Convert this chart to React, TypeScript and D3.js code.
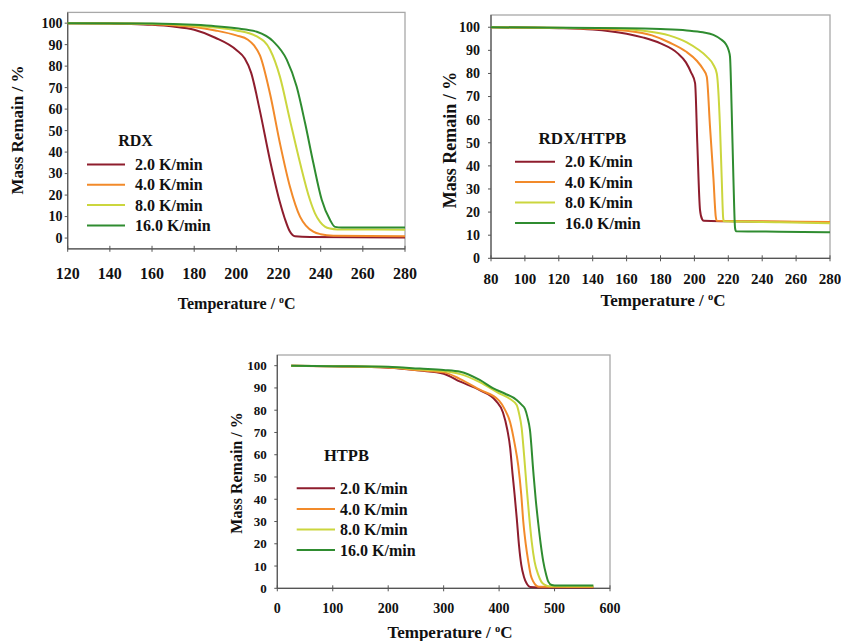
import React from 'react';
import * as d3 from 'd3';

type Pt = [number, number];

// ---------- shared legend data ----------
const rateLabels = ['2.0 K/min', '4.0 K/min', '8.0 K/min', '16.0 K/min'];
const rateColors = ['#8e1d2d', '#f28a2a', '#cbd63e', '#2f8c30'];

// ---------- RDX ----------
const rdxTicksX = [120, 140, 160, 180, 200, 220, 240, 260, 280];
const rdxTicksY = [0, 10, 20, 30, 40, 50, 60, 70, 80, 90, 100];
const rdx2: Pt[] = [[120, 100], [140, 99.8], [150, 99.6], [160, 99.2], [170, 98.4], [180, 96.9], [190, 93.2], [200, 87.5], [204, 83.5], [207, 77], [211, 60], [216, 36], [220.7, 16.5], [223, 9], [225.4, 3], [227.8, 0.8], [235, 0.5], [280, 0.3]];
const rdx4: Pt[] = [[120, 100], [150, 99.8], [160, 99.5], [170, 99], [180, 98.2], [190, 96.6], [200, 94.3], [205.5, 92.3], [208.5, 89.5], [211.2, 85], [216, 67], [220.7, 44], [225.4, 24], [230.2, 10], [233, 5.8], [236.5, 3], [240, 1.8], [246, 1.1], [280, 0.8]];
const rdx8: Pt[] = [[120, 100], [160, 99.7], [180, 98.8], [190, 98], [200, 96.6], [209.7, 93.8], [216, 87.6], [220.7, 75], [225.4, 55], [230.2, 35], [234.9, 17.8], [237.3, 11.5], [239.7, 7.5], [242, 5.3], [244.4, 4.4], [248, 4], [280, 3.9]];
const rdx16: Pt[] = [[120, 100], [160, 99.8], [180, 99.2], [190, 98.6], [200, 97.6], [209.7, 96], [217.5, 91.5], [223.9, 83], [228.6, 70.5], [232.6, 53.5], [236.5, 35], [240.5, 17.8], [244.4, 8.5], [246.8, 5.2], [250, 4.9], [280, 4.9]];

// ---------- RDX/HTPB ----------
const mixTicksX = [80, 100, 120, 140, 160, 180, 200, 220, 240, 260, 280];
const mixTicksY = [0, 10, 20, 30, 40, 50, 60, 70, 80, 90, 100];
const mix2: Pt[] = [[80, 100], [120, 99.6], [140, 99], [150, 98.3], [160, 97.2], [170, 95.5], [180, 93], [190, 88.8], [195, 84.8], [198, 80.5], [200.4, 75.8], [201.7, 50], [203.3, 21], [204.5, 17], [205.5, 16.2], [220, 16], [280, 15.6]];
const mix4: Pt[] = [[80, 100], [140, 99.4], [160, 98.5], [175, 96.5], [185.6, 93.3], [195, 89.5], [201.4, 85.5], [205, 82], [207.3, 78.6], [209.2, 57], [211.2, 35], [212.6, 18], [213.2, 16.2], [240, 16], [280, 15.7]];
const mix8: Pt[] = [[80, 100], [150, 99.6], [170, 98.5], [185, 96.5], [195.5, 93.5], [202, 90.5], [207.3, 87.3], [211, 84], [213.2, 80], [215.1, 57], [216.1, 35], [217, 17.3], [217.5, 16], [250, 15.6], [280, 15.2]];
const mix16: Pt[] = [[80, 100], [160, 99.6], [180, 99.2], [195.5, 98.6], [205, 97.8], [211.2, 96.7], [216, 94.6], [218.5, 92.8], [220.2, 90], [221, 87.3], [222, 64], [223, 35], [224, 13], [224.6, 11.7], [250, 11.5], [280, 11.3]];

// ---------- HTPB ----------
const htpbTicksX = [0, 100, 200, 300, 400, 500, 600];
const htpbTicksY = [0, 10, 20, 30, 40, 50, 60, 70, 80, 90, 100];
const htpb2: Pt[] = [[25, 100], [100, 99.7], [200, 99.1], [257, 97.8], [300, 96.4], [330, 92.8], [365, 89], [395, 84], [407, 79], [415, 71], [420, 63], [424, 52], [428, 42], [432, 31], [436, 19], [440, 10.5], [445, 5], [450, 2], [456, 0.6], [470, 0.4], [570, 0.4]];
const htpb4: Pt[] = [[25, 100], [100, 99.7], [200, 99.2], [257, 97.9], [300, 97], [330, 94], [365, 89.2], [400, 84.3], [410, 80.5], [420, 74.5], [428, 65], [434.6, 55], [440, 42], [443.6, 30], [448, 20], [452.7, 12], [457, 6], [461.7, 3], [467, 1.2], [472, 0.7], [570, 0.6]];
const htpb8: Pt[] = [[25, 100], [100, 99.8], [200, 99.4], [257, 98.3], [300, 97.6], [330, 96.2], [365, 92.6], [400, 87.6], [420, 85], [431.7, 82.3], [436, 78.5], [440.7, 72], [445, 60], [449.8, 45], [454, 33], [458.8, 21], [464, 12], [470.7, 6], [476, 3], [482.8, 1.5], [490, 0.9], [570, 0.9]];
const htpb16: Pt[] = [[25, 100], [100, 99.8], [200, 99.5], [257, 98.7], [300, 98.1], [330, 97.3], [365, 93.6], [389.6, 89.8], [410, 87.5], [431.7, 84.6], [440, 82.6], [446.7, 80.6], [451, 77], [455.7, 71], [461.7, 52.4], [466, 40], [470.7, 29], [475, 20], [479.7, 12], [485, 6], [488.7, 3], [494.8, 1.5], [500, 1.3], [570, 1.3]];

const FONT = '"Liberation Serif", "Times New Roman", serif';

interface PanelProps {
  left: number; right: number; top: number; bottom: number;
  xDomain: [number, number]; yDomain: [number, number];
  xTicks: number[]; yTicks: number[];
  series: Pt[][];
  title: string; titleX: number; titleY: number; titleSize: number;
  legLineX0: number; legLineX1: number; legTextX: number; legY0: number; legDy: number; legSize: number;
  yTickRight: number; yTickSize: number;
  xTickBaseline: number; xTickSize: number;
  xTitleX: number; xTitleY: number; xTitleSize: number;
  yTitleX: number; yTitleY: number; yTitleSize: number;
}

function Panel(p: PanelProps) {
  const x = d3.scaleLinear().domain(p.xDomain).range([p.left, p.right]);
  const y = d3.scaleLinear().domain(p.yDomain).range([p.bottom, p.top]);
  const line = d3.line<Pt>().x(d => x(d[0])).y(d => y(d[1])).curve(d3.curveMonotoneX);
  return (
    <g fontFamily={FONT} fontWeight="bold" fill="#111">
      <rect x={p.left} y={p.top} width={p.right - p.left} height={p.bottom - p.top} fill="none" stroke="#a8a8a8" strokeWidth={1.3} />
      <line x1={p.left} x2={p.left} y1={p.top} y2={p.bottom} stroke="#555" strokeWidth={1.2} />
      <line x1={p.left} x2={p.right} y1={p.bottom} y2={p.bottom} stroke="#555" strokeWidth={1.2} />
      {p.xTicks.map(t => (
        <g key={'xt' + t}>
          <line x1={x(t)} x2={x(t)} y1={p.bottom - 3} y2={p.bottom + 3} stroke="#555" strokeWidth={1} />
          <text x={x(t)} y={p.xTickBaseline} textAnchor="middle" fontSize={p.xTickSize}>{t}</text>
        </g>
      ))}
      {p.yTicks.map(t => (
        <g key={'yt' + t}>
          <line x1={p.left - 3} x2={p.left} y1={y(t)} y2={y(t)} stroke="#555" strokeWidth={1} />
          <text x={p.yTickRight} y={y(t)} dy="0.35em" textAnchor="end" fontSize={p.yTickSize}>{t}</text>
        </g>
      ))}
      <g clipPath="none">
        {p.series.map((s, i) => (
          <path key={'s' + i} d={line(s) || ''} fill="none" stroke={rateColors[i]} strokeWidth={2} />
        ))}
      </g>
      <text x={p.titleX} y={p.titleY} dy="0.35em" textAnchor="middle" fontSize={p.titleSize}>{p.title}</text>
      {rateLabels.map((lab, i) => (
        <g key={'lg' + i}>
          <line x1={p.legLineX0} x2={p.legLineX1} y1={p.legY0 + i * p.legDy} y2={p.legY0 + i * p.legDy} stroke={rateColors[i]} strokeWidth={2} />
          <text x={p.legTextX} y={p.legY0 + i * p.legDy} dy="0.35em" fontSize={p.legSize}>{lab}</text>
        </g>
      ))}
      <text x={p.xTitleX} y={p.xTitleY} textAnchor="middle" fontSize={p.xTitleSize}>
        Temperature / <tspan fontSize={p.xTitleSize * 0.62} dy={-p.xTitleSize * 0.38}>o</tspan><tspan dy={p.xTitleSize * 0.38}>C</tspan>
      </text>
      <text transform={`translate(${p.yTitleX},${p.yTitleY}) rotate(-90)`} textAnchor="middle" dy="0.35em" fontSize={p.yTitleSize}>
        Mass Remain / %
      </text>
    </g>
  );
}

export default function App() {
  return (
    <svg width={841} height={641} style={{ position: 'absolute', left: 0, top: 0, background: '#fff' }}>
      <rect x={0} y={0} width={841} height={641} fill="#fff" />
      <Panel
        left={67.7} right={405} top={12.4} bottom={248.8}
        xDomain={[120, 280]} yDomain={[-5, 105]}
        xTicks={rdxTicksX} yTicks={rdxTicksY}
        series={[rdx2, rdx4, rdx8, rdx16]}
        title="RDX" titleX={135.5} titleY={140} titleSize={16}
        legLineX0={87} legLineX1={125} legTextX={135} legY0={164.5} legDy={20.3} legSize={16}
        yTickRight={62.5} yTickSize={14}
        xTickBaseline={279} xTickSize={16}
        xTitleX={236.7} xTitleY={309} xTitleSize={16}
        yTitleX={17} yTitleY={130} yTitleSize={17}
      />
      <Panel
        left={491} right={830} top={15} bottom={258.3}
        xDomain={[80, 280]} yDomain={[0, 105.3]}
        xTicks={mixTicksX} yTicks={mixTicksY}
        series={[mix2, mix4, mix8, mix16]}
        title="RDX/HTPB" titleX={582.5} titleY={138.3} titleSize={17}
        legLineX0={515} legLineX1={555} legTextX={565} legY0={161.7} legDy={20.4} legSize={16}
        yTickRight={480} yTickSize={14}
        xTickBaseline={284} xTickSize={15}
        xTitleX={663} xTitleY={306} xTitleSize={17}
        yTitleX={450} yTitleY={140} yTitleSize={18}
      />
      <Panel
        left={277.3} right={610} top={355} bottom={588.3}
        xDomain={[0, 600]} yDomain={[0, 104.8]}
        xTicks={htpbTicksX} yTicks={htpbTicksY}
        series={[htpb2, htpb4, htpb8, htpb16]}
        title="HTPB" titleX={346.5} titleY={455} titleSize={16.5}
        legLineX0={296.7} legLineX1={335} legTextX={340} legY0={488.3} legDy={20.6} legSize={16}
        yTickRight={266.7} yTickSize={13}
        xTickBaseline={613} xTickSize={14}
        xTitleX={450} xTitleY={638} xTitleSize={17}
        yTitleX={236.7} yTitleY={473} yTitleSize={16}
      />
    </svg>
  );
}
